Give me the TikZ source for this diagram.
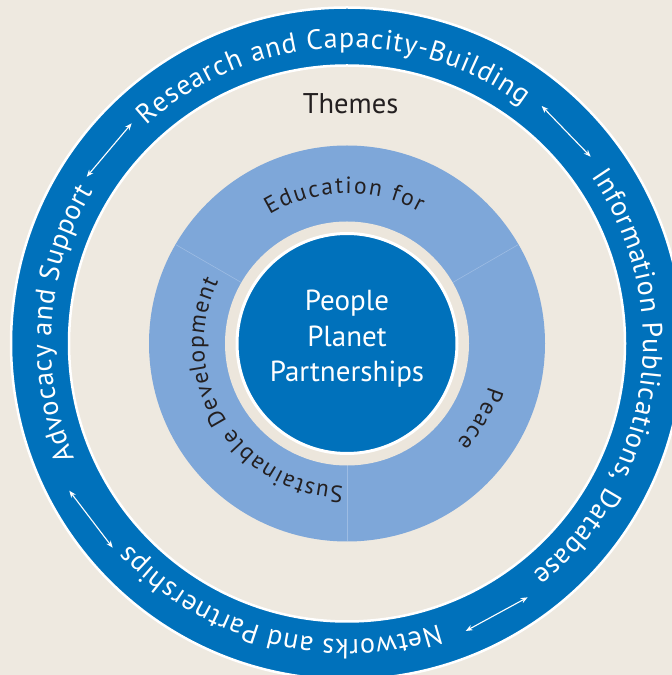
\documentclass[tikz,border=0pt]{standalone}
\usepackage{fontspec}
\setmainfont{PT Sans}
\usetikzlibrary{decorations.text,arrows.meta}
\definecolor{bgcol}{HTML}{EEE9E0}
\definecolor{ringblue}{HTML}{0071BB}
\definecolor{bandblue}{HTML}{7EA7D9}
\definecolor{divcol}{HTML}{9DBCE3}
\definecolor{gapcol}{HTML}{ECE6DC}
\definecolor{inktext}{HTML}{231F20}
\newcommand\ringfmt{\fontsize{28}{32}\selectfont\color{white}}
\newcommand\bandfmt{\fontsize{23.5}{27}\selectfont\color{inktext}}
\begin{document}
\begin{tikzpicture}[x=1pt,y=1pt,
  ringtext/.style={decorate,decoration={text along path,text align=fit to path,text={|\ringfmt|#1}}},
  bandtext/.style={decorate,decoration={text along path,text align=fit to path,text={|\bandfmt|#1}}},
  dblarrow/.style={white,line width=1.1pt,{Stealth[length=7pt,width=5.5pt]}-{Stealth[length=7pt,width=5.5pt]}},
  coretext/.style={anchor=base,text=white,font=\fontsize{29}{35}\selectfont,inner sep=0pt},
  divider/.style={divcol,line width=0.6pt}]
\useasboundingbox (0,0) rectangle (672,675);
\fill[bgcol] (0,0) rectangle (672,675);
\coordinate (c) at (347,331.5);
% outer ring
\path[draw=white,line width=2.5pt,fill=ringblue,even odd rule]
  (c) circle[radius=336pt] (c) circle[radius=278pt];
% band of themes
\fill[bandblue] (c) circle[radius=198pt];
\foreach \a in {30,150,270}
  \draw[divider] ([shift={(\a:122)}]c) -- ([shift={(\a:198)}]c);
\fill[gapcol] (c) circle[radius=122pt];
\node[circle,fill=ringblue,draw=white,line width=3pt,minimum size=220pt,inner sep=0pt] (core) at (c) {};
\node[coretext] (t1) at (347,364.3) {People};
\node[coretext] (t2) at (347,328.3) {Planet};
\node[coretext] (t3) at (347,293.3) {Partnerships};
\node[anchor=base,text=inktext,font=\fontsize{28.5}{32}\selectfont,inner sep=0pt] (themes) at (350.5,561) {Themes};
% ring texts
\path[ringtext={Research and Capacity-Building}] ([shift={(132.7:296)}]c) arc[start angle=132.7,end angle=53.6,radius=296pt];
\path[ringtext={Information Publications{,} Database}] ([shift={(34.4:296)}]c) arc[start angle=34.4,end angle=-51.1,radius=296pt];
\path[ringtext={Networks and Partnerships}] ([shift={(-71.9:296)}]c) arc[start angle=-71.9,end angle=-137.2,radius=296pt];
\path[ringtext={Advocacy and Support}] ([shift={(202.9:296)}]c) arc[start angle=202.9,end angle=149,radius=296pt];
% band texts
\path[bandtext={Education for}] ([shift={(121:150)}]c) arc[start angle=121,end angle=61,radius=150pt];
\path[bandtext={Peace}] ([shift={(-17:148)}]c) arc[start angle=-17,end angle=-42,radius=148pt];
\path[bandtext={Sustainable Development}] ([shift={(268.5:143)}]c) arc[start angle=268.5,end angle=154,radius=143pt];
% arrows
\coordinate (ul1) at (131.7,551.7); \coordinate (ul2) at (86.7,498.3);
\coordinate (ur1) at (541.7,569);   \coordinate (ur2) at (590.7,518.3);
\coordinate (lr1) at (527.7,77.7);  \coordinate (lr2) at (465.7,44);
\coordinate (ll1) at (69.3,184.3);  \coordinate (ll2) at (112.7,127.3);
\draw[dblarrow] (ul1) -- (ul2);
\draw[dblarrow] (ur1) -- (ur2);
\draw[dblarrow] (lr1) -- (lr2);
\draw[dblarrow] (ll1) -- (ll2);
\end{tikzpicture}
\end{document}
